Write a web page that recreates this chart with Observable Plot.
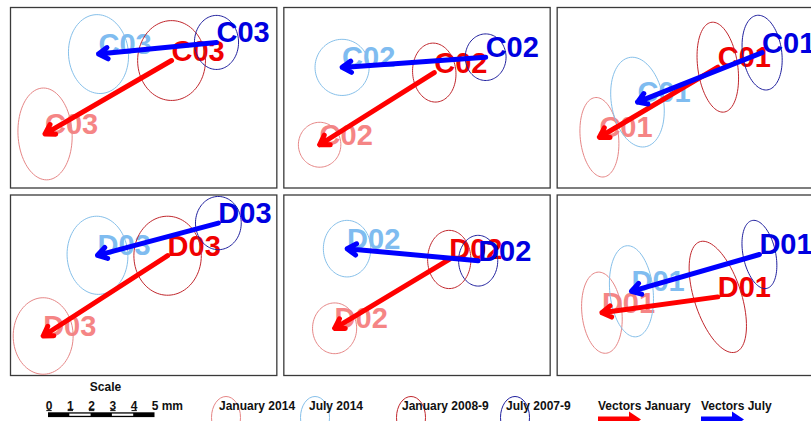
<!DOCTYPE html>
<html>
<head>
<meta charset="utf-8">
<script src="https://cdn.jsdelivr.net/npm/d3@7"></script>
<script src="https://cdn.jsdelivr.net/npm/@observablehq/plot@0.6"></script>
<style>
  html, body { margin: 0; padding: 0; background: #fff; }
  #wrap { width: 811px; height: 421px; overflow: hidden; position: relative; background: #fff; }
  #chart { width: 811px; height: 378px; overflow: hidden; }
  #chart svg { max-width: none !important; width: 823px !important; height: 378px !important; }
  #legend { display: block; }
</style>
</head>
<body>
<div id="wrap">
  <div id="chart"></div>
  <svg id="legend" width="811" height="43"></svg>
</div>
<script>
// ---- data (positions in mm within each site panel; y measured downwards) ----
const sites   = ["C03", "C02", "C01", "D03", "D02", "D01"];
const siteCol = [0, 1, 2, 0, 1, 2];
const siteRow = [0, 0, 0, 1, 1, 1];

const periods = ["January 2014", "July 2014", "January 2008-9", "July 2007-9"];

// [centre x, centre y, semi-axis x, semi-axis y, tilt in degrees]
const jan2014 = [
  [1.66, 6.08, 1.30, 2.21, -3],
  [1.72, 6.60, 1.02, 1.08, 0],
  [2.03, 6.24, 0.92, 1.92, -6],
  [1.57, 6.78, 1.44, 1.84, 0],
  [2.44, 6.41, 1.06, 1.22, 0],
  [2.15, 5.66, 0.96, 1.96, -6]
];
const jul2014 = [
  [4.23, 2.24, 1.44, 1.90, -5],
  [2.80, 2.88, 1.30, 1.35, 0],
  [3.86, 4.55, 1.25, 2.18, -10],
  [4.18, 2.90, 1.46, 1.88, -3],
  [3.04, 2.58, 1.14, 1.36, 0],
  [3.57, 4.63, 1.04, 2.20, -6]
];
const jan0809 = [
  [7.74, 2.55, 1.63, 1.92, 0],
  [7.23, 3.13, 1.04, 1.42, -5],
  [7.72, 2.87, 0.96, 2.18, -8],
  [7.55, 2.92, 1.62, 1.90, 0],
  [7.95, 3.10, 1.04, 1.40, 0],
  [7.72, 4.90, 1.13, 2.79, -18]
];
const jul0709 = [
  [9.90, 1.68, 1.06, 1.30, 0],
  [9.70, 2.39, 0.98, 1.12, 0],
  [9.85, 2.17, 0.94, 1.81, -8],
  [9.99, 1.35, 1.10, 1.28, 0],
  [9.34, 3.16, 0.94, 1.22, 0],
  [9.72, 2.86, 0.78, 1.67, -12]
];

const scaleLabels = ["0", "1", "2", "3", "4", "5 mm"];

// ---- styles ----
const FONT = "Liberation Sans, Arial, Helvetica, sans-serif";
const ellipseColor = {
  "January 2014": "#e68686",
  "July 2014": "#86c0ea",
  "January 2008-9": "#c1272d",
  "July 2007-9": "#1f1f9e"
};
const labelColor = {
  "January 2014": "#f58585",
  "July 2014": "#7fbcf0",
  "January 2008-9": "#f00000",
  "July 2007-9": "#0000e0"
};
const periodData = {
  "January 2014": jan2014,
  "July 2014": jul2014,
  "January 2008-9": jan0809,
  "July 2007-9": jul0709
};

// ellipse outline (shape geometry from centre / axes / tilt)
function outline(period) {
  return periodData[period].flatMap(([cx, cy, rx, ry, tilt], i) => {
    const phi = tilt * Math.PI / 180;
    return d3.range(0, 360, 4).map(deg => {
      const t = deg * Math.PI / 180;
      const ex = rx * Math.cos(t), ey = ry * Math.sin(t);
      return {
        x: cx + ex * Math.cos(phi) - ey * Math.sin(phi),
        y: cy + ex * Math.sin(phi) + ey * Math.cos(phi),
        key: sites[i] + " " + period,
        col: siteCol[i], row: siteRow[i]
      };
    });
  });
}
function labels(period) {
  return periodData[period].map(([cx, cy], i) => ({
    x: cx, y: cy, text: sites[i], col: siteCol[i], row: siteRow[i]
  }));
}
function vectors(from, to) {
  return sites.map((s, i) => ({
    x1: from[i][0], y1: from[i][1], x2: to[i][0], y2: to[i][1],
    col: siteCol[i], row: siteRow[i]
  }));
}
function labelMark(period) {
  return Plot.text(labels(period), {
    x: "x", y: "y", text: "text", fx: "col", fy: "row",
    fill: labelColor[period], textAnchor: "start", lineAnchor: "bottom",
    fontSize: 29, fontWeight: "bold", fontFamily: FONT
  });
}
function ellipseMark(period) {
  return Plot.line(outline(period), {
    x: "x", y: "y", z: "key", fx: "col", fy: "row",
    stroke: ellipseColor[period], strokeWidth: 1, curve: "linear-closed"
  });
}

const chart = Plot.plot({
  width: 823,
  height: 378,
  marginTop: 7, marginBottom: 3, marginLeft: 10, marginRight: 0,
  fx: { domain: [0, 1, 2], axis: null, paddingInner: 21 / 820, paddingOuter: 0, round: false },
  fy: { domain: [0, 1], axis: null, paddingInner: 14 / 375, paddingOuter: 0, round: false },
  x: { domain: [0, 12.8], axis: null },
  y: { domain: [0, 8.68], axis: null, reverse: true },
  style: { background: "white", maxWidth: "none" },
  marks: [
    Plot.frame({ stroke: "#3a3a3a", strokeWidth: 1.3 }),
    labelMark("January 2014"),
    labelMark("July 2014"),
    labelMark("January 2008-9"),
    ellipseMark("January 2014"),
    ellipseMark("July 2014"),
    ellipseMark("January 2008-9"),
    ellipseMark("July 2007-9"),
    Plot.arrow(vectors(jan0809, jan2014), {
      x1: "x1", y1: "y1", x2: "x2", y2: "y2", fx: "col", fy: "row",
      stroke: "#ff0000", strokeWidth: 5, headLength: 3.2, headAngle: 64
    }),
    Plot.arrow(vectors(jul0709, jul2014), {
      x1: "x1", y1: "y1", x2: "x2", y2: "y2", fx: "col", fy: "row",
      stroke: "#0000ff", strokeWidth: 5, headLength: 3.2, headAngle: 64
    }),
    labelMark("July 2007-9")
  ]
});
document.getElementById("chart").appendChild(chart);

// ---- legend ----
const lg = d3.select("#legend").attr("font-family", FONT);
lg.append("rect").attr("width", 811).attr("height", 43).attr("fill", "#fff");

lg.append("text").attr("x", 105.5).attr("y", 12.5).attr("text-anchor", "middle")
  .attr("font-size", 12).attr("font-weight", "bold").attr("fill", "#111").text("Scale");

const barX0 = 48, pxPerMm = 21.3;
scaleLabels.forEach((t, i) => {
  const bx = barX0 + i * pxPerMm;
  if (i < 5) {
    lg.append("text").attr("x", bx + 1).attr("y", 31.5).attr("text-anchor", "middle")
      .attr("font-size", 12).attr("font-weight", "bold").attr("fill", "#111").text(t);
    lg.append("line").attr("x1", bx - 1.7).attr("x2", bx + 3.7).attr("y1", 32.6).attr("y2", 32.6)
      .attr("stroke", "#111").attr("stroke-width", 1);
  } else {
    lg.append("text").attr("x", bx - 2.8).attr("y", 31.5).attr("text-anchor", "start")
      .attr("font-size", 12).attr("font-weight", "bold").attr("fill", "#111").text(t);
  }
});
lg.append("rect").attr("x", barX0).attr("y", 34.3).attr("width", 5 * pxPerMm).attr("height", 4.8).attr("fill", "#000");
[1, 3].forEach(i => {
  lg.append("rect").attr("x", barX0 + i * pxPerMm).attr("y", 35.6).attr("width", pxPerMm).attr("height", 2.2).attr("fill", "#fff");
});

const legendItems = [
  { period: "January 2014", cx: 226, tx: 219 },
  { period: "July 2014", cx: 315, tx: 309 },
  { period: "January 2008-9", cx: 411, tx: 402 },
  { period: "July 2007-9", cx: 515, tx: 506 }
];
legendItems.forEach(d => {
  lg.append("ellipse").attr("cx", d.cx).attr("cy", 39.5).attr("rx", 14.5).attr("ry", 21)
    .attr("fill", "none").attr("stroke", ellipseColor[d.period]).attr("stroke-width", 1);
  lg.append("text").attr("x", d.tx).attr("y", 31.5).attr("font-size", 12).attr("font-weight", "bold")
    .attr("fill", "#111").text(d.period);
});

[{ label: "Vectors January", x: 598, color: "#ff0000" },
 { label: "Vectors July", x: 701, color: "#0000ff" }].forEach(d => {
  lg.append("text").attr("x", d.x).attr("y", 31.5).attr("font-size", 12).attr("font-weight", "bold")
    .attr("fill", "#111").text(d.label);
  const x = d.x;
  lg.append("path")
    .attr("d", `M${x},38.5 L${x + 31},38.5 L${x + 31},33.5 L${x + 43},41.5 L${x + 31},49.5 L${x + 31},44.5 L${x},44.5 Z`)
    .attr("fill", d.color);
});
</script>
</body>
</html>
